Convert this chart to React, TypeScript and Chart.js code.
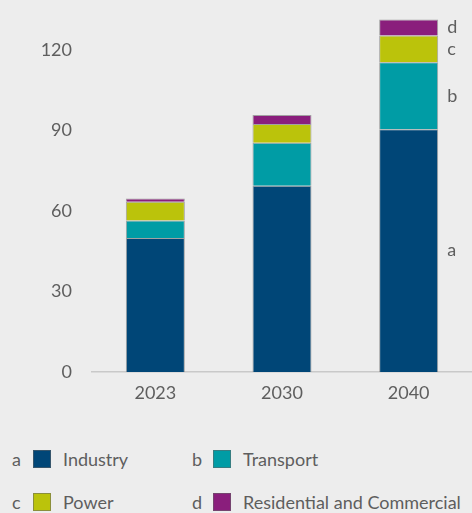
import React, { useEffect, useRef } from "react";
import { Chart, registerables } from "chart.js";

Chart.register(...registerables);

const categories = ["2023", "2030", "2040"];
const industry = [50, 69.5, 90.5];
const transport = [6.5, 16, 25];
const power = [7, 7, 10];
const residential = [1.2, 3.3, 6];
const seriesNames = ["Industry", "Transport", "Power", "Residential and Commercial"];
const seriesLetters = ["a", "b", "c", "d"];
const seriesColors = ["#004677", "#009ca5", "#bbc30b", "#8a1e7c"];
const yTicks = [0, 30, 60, 90, 120];

const FONT = "Lato, 'Open Sans', sans-serif";
const TEXT = "#5e5e5e";

const letterPlugin = {
  id: "segLetters",
  afterDatasetsDraw(chart: any) {
    const ctx = chart.ctx;
    const last = categories.length - 1;
    ctx.save();
    ctx.font = `18px ${FONT}`;
    ctx.fillStyle = TEXT;
    ctx.textAlign = "left";
    ctx.textBaseline = "middle";
    chart.data.datasets.forEach((_: any, i: number) => {
      const el: any = chart.getDatasetMeta(i).data[last];
      if (!el) return;
      const y = (el.y + el.base) / 2;
      const x = el.x + el.width / 2 + 9;
      ctx.fillText(seriesLetters[i], x, y);
    });
    ctx.restore();
  },
};

function ChartCanvas() {
  const ref = useRef<HTMLCanvasElement>(null);
  useEffect(() => {
    if (!ref.current) return;
    const values = [industry, transport, power, residential];
    const chart = new Chart(ref.current, {
      type: "bar",
      data: {
        labels: categories,
        datasets: values.map((v, i) => ({
          label: seriesNames[i],
          data: v,
          backgroundColor: seriesColors[i],
          borderColor: "rgba(100,100,100,0.55)",
          borderWidth: 1,
          barPercentage: 0.466,
          categoryPercentage: 1,
        })),
      },
      options: {
        animation: false,
        responsive: false,
        maintainAspectRatio: false,
        layout: { padding: { top: 10, right: 0, left: 0, bottom: 0 } },
        plugins: { legend: { display: false }, tooltip: { enabled: false } },
        scales: {
          x: {
            stacked: true,
            grid: { display: false, drawTicks: false },
            border: { display: true, color: "#c9c9c9", width: 1.5 },
            ticks: { color: TEXT, font: { family: FONT, size: 18 }, padding: 10 },
            afterFit(scale: any) {
              scale.height = 38;
            },
          },
          y: {
            stacked: true,
            min: 0,
            max: 135,
            grid: { display: false, drawTicks: false },
            border: { display: false },
            afterBuildTicks(scale: any) {
              scale.ticks = yTicks.map((v) => ({ value: v }));
            },
            ticks: {
              includeBounds: false,
              stepSize: 30,
              color: TEXT,
              font: { family: FONT, size: 18 },
              padding: 20,
            },
            afterFit(scale: any) {
              scale.width = 92;
              scale.paddingTop = 0;
              scale.paddingBottom = 0;
            },
          },
        },
      },
      plugins: [letterPlugin],
    });
    return () => chart.destroy();
  }, []);
  return <canvas ref={ref} width={472} height={410} style={{ position: "absolute", left: 0, top: 0 }} />;
}

function LegendItem({ i, x, y }: { i: number; x: number; y: number }) {
  return (
    <div
      style={{
        position: "absolute",
        left: x,
        top: y - 11,
        height: 22,
        display: "flex",
        alignItems: "center",
        fontFamily: FONT,
        fontSize: 18,
        color: TEXT,
        whiteSpace: "nowrap",
      }}
    >
      <span style={{ width: 21 }}>{seriesLetters[i]}</span>
      <span
        style={{
          width: 16,
          height: 16,
          background: seriesColors[i],
          border: "1px solid rgba(100,100,100,0.55)",
          marginRight: 12,
        }}
      />
      <span>{seriesNames[i]}</span>
    </div>
  );
}

export default function App() {
  return (
    <div
      style={{
        position: "fixed",
        left: 0,
        top: 0,
        width: 472,
        height: 513,
        background: "#ededed",
        overflow: "hidden",
      }}
    >
      <ChartCanvas />
      <LegendItem i={0} x={12} y={459} />
      <LegendItem i={1} x={192} y={459} />
      <LegendItem i={2} x={12} y={502} />
      <LegendItem i={3} x={192} y={502} />
    </div>
  );
}
